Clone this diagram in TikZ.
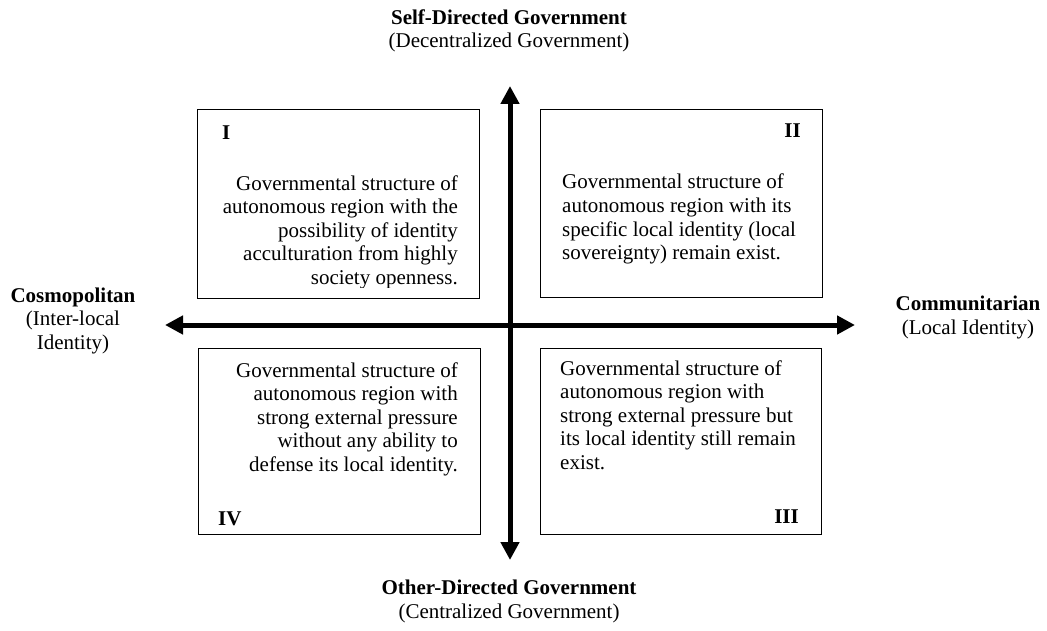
\documentclass[tikz,border=0pt]{standalone}
\usepackage{fontspec}
\setmainfont{Liberation Serif}
\usetikzlibrary{arrows.meta}
\usetikzlibrary{positioning}
\tikzstyle{axisend} = [coordinate]
\tikzstyle{quadrant} = [draw, line width=1.3pt, inner sep=0pt, anchor=north west, minimum width=282pt]
\tikzstyle{axis} = [line width=5pt, {Triangle[width=18pt,length=18pt]}-{Triangle[width=18pt,length=18pt]}]
\tikzstyle{txt} = [inner sep=0pt, font=\fontsize{21}{23.5}\selectfont]
\tikzstyle{numeral} = [inner sep=0pt, font=\fontsize{21}{23.5}\selectfont\bfseries]
\begin{document}
\begin{tikzpicture}[x=1pt,y=-1pt]
    \useasboundingbox (0,0) rectangle (1047,631);
    % axes
    \node [axisend, name=axW] at (165,325) {};
    \node [axisend, name=axE] at (855,325) {};
    \node [axisend, name=axN] at (510,86) {};
    \node [axisend, name=axS] at (510,560) {};
    \draw [axis] (axW) -- (axE);
    \draw [axis] (axN) -- (axS);

    % quadrant boxes
    \node [quadrant, minimum height=189pt] (boxI) at (197,109) {};
    \node [quadrant, minimum height=188pt] (boxII) at (540,109) {};
    \node [quadrant, minimum height=186pt] (boxIV) at (198,348) {};
    \node [quadrant, minimum height=186pt, minimum width=281pt] (boxIII) at (540,348) {};

    \node [numeral, anchor=base west] (numI) at (222,140) {I};
    \node [numeral, anchor=base east] (numII) at (801,138) {II};
    \node [numeral, anchor=base west] (numIV) at (218,525) {IV};
    \node [numeral, anchor=base east] (numIII) at (799,523) {III};

    % base anchor sits on the last line
    \begin{scope}
      \clip (197,109) rectangle (479,287.5);
      \node [txt, align=right, anchor=base east] (textI) at (458,284)
        {Governmental structure of\\autonomous region with the\\possibility of identity\\acculturation from highly\\society openness.};
    \end{scope}
    \node [txt, align=left, anchor=base west] (textII) at (562,259.5)
      {Governmental structure of\\autonomous region with its\\specific local identity (local\\sovereignty) remain exist.};
    \node [txt, align=right, anchor=base east] (textIV) at (458,471)
      {Governmental structure of\\autonomous region with\\strong external pressure\\without any ability to\\defense its local identity.};
    \node [txt, align=left, anchor=base west] (textIII) at (560,469)
      {Governmental structure of\\autonomous region with\\strong external pressure but\\its local identity still remain\\exist.};

    % axis labels
    \node [txt, align=center, anchor=base] (lblTop) at (509,48)
      {\textbf{Self-Directed Government}\\(Decentralized Government)};
    \node [txt, align=center, anchor=base] (lblBottom) at (509,618)
      {\textbf{Other-Directed Government}\\(Centralized Government)};
    \node [txt, align=center, anchor=base] (lblLeft) at (73,349)
      {\textbf{Cosmopolitan}\\(Inter-local\\Identity)};
    \node [txt, align=center, anchor=base] (lblRight) at (968,334)
      {\textbf{Communitarian}\\(Local Identity)};
\end{tikzpicture}
\end{document}
